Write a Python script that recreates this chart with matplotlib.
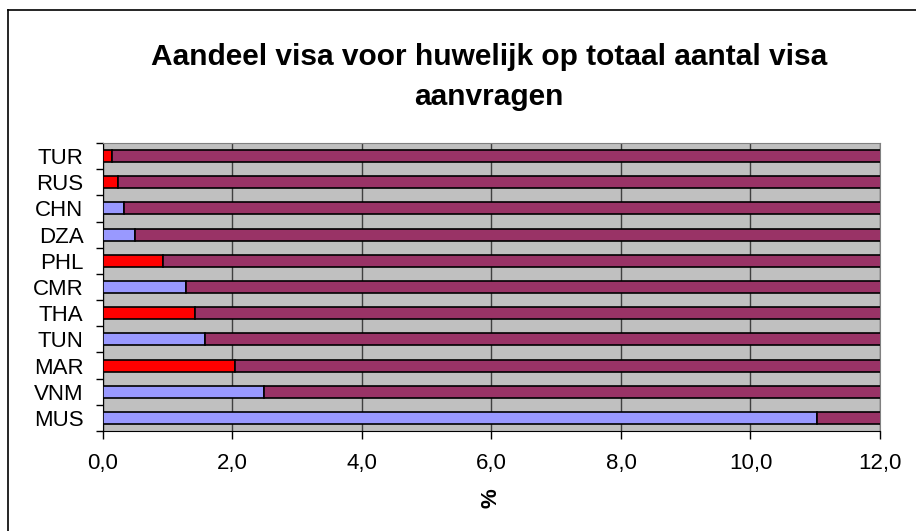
import numpy as np
import matplotlib
matplotlib.use('Agg')
import matplotlib.pyplot as plt
from matplotlib.lines import Line2D

plt.rcParams['font.family'] = ['Liberation Sans', 'DejaVu Sans']

# data (bottom to top)
countries = ['MUS', 'VNM', 'MAR', 'TUN', 'THA', 'CMR', 'PHL', 'DZA', 'CHN', 'RUS', 'TUR']
marriage_share = [11.03, 2.48, 2.04, 1.57, 1.42, 1.28, 0.93, 0.49, 0.32, 0.23, 0.14]
first_colors = ['#9999FF', '#9999FF', '#FF0000', '#9999FF', '#FF0000', '#9999FF',
                '#FF0000', '#9999FF', '#9999FF', '#FF0000', '#FF0000']
x_ticks = [0, 2, 4, 6, 8, 10, 12]

rest = [100 - v for v in marriage_share]
y = np.arange(len(countries))

fig = plt.figure(figsize=(9.16, 5.31), dpi=100)
ax = fig.add_axes([103 / 916, 1 - 431 / 531, 777 / 916, 288 / 531])
ax.set_facecolor('#C0C0C0')

ax.barh(y, marriage_share, height=0.46, color=first_colors, edgecolor='black', linewidth=1.2, zorder=3)
ax.barh(y, rest, left=marriage_share, height=0.46, color='#993366', edgecolor='black', linewidth=1.2, zorder=3)

ax.set_xlim(0, 12)
ax.set_ylim(-0.5, len(countries) - 0.5)
ax.set_xticks(x_ticks)
ax.set_xticklabels([f'{t:.1f}'.replace('.', ',') for t in x_ticks], fontsize=16)
ax.xaxis.grid(True, color='#404040', linewidth=1, zorder=1)
ax.set_axisbelow(True)

ax.set_yticks(y)
ax.set_yticklabels(countries, fontsize=16)
ax.tick_params(axis='y', which='major', length=0, pad=14)
ax.set_yticks(np.arange(-0.5, len(countries)), minor=True)
ax.tick_params(axis='y', which='minor', length=5, width=1, color='black')
ax.tick_params(axis='x', length=6, width=1, pad=10, color='black')

for s in ['top', 'right']:
    ax.spines[s].set_color('#808080')
for s in ['left', 'bottom']:
    ax.spines[s].set_color('black')

ax.set_xlabel('%', fontsize=16, fontweight='bold', rotation=90, labelpad=10)

fig.text(0.534, 1 - 77 / 531, 'Aandeel visa voor huwelijk op totaal aantal visa\naanvragen',
         ha='center', va='center', fontsize=21.5, fontweight='bold', linespacing=1.58)

# chart area border (top and left visible)
fig.add_artist(Line2D([8 / 916, 1], [1 - 10 / 531, 1 - 10 / 531], color='black', linewidth=1.2))
fig.add_artist(Line2D([8 / 916, 8 / 916], [0, 1 - 10 / 531], color='black', linewidth=1.2))

fig.savefig('out.png', dpi=100)
